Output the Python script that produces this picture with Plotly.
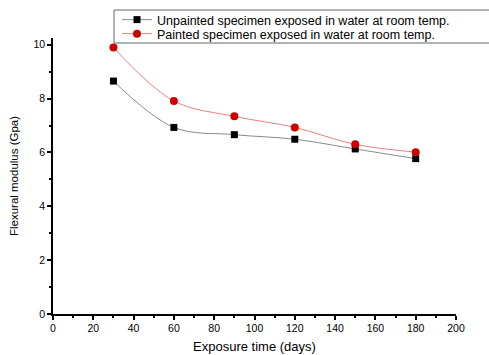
import plotly.graph_objects as go

days = [30, 60, 90, 120, 150, 180]
unpainted = [8.65, 6.93, 6.66, 6.49, 6.13, 5.77]
painted = [9.9, 7.91, 7.34, 6.93, 6.30, 6.01]
name_unpainted = "Unpainted specimen exposed in water at room temp."
name_painted = "Painted specimen exposed in water at room temp."

FONT = "Liberation Sans, Arial"

fig = go.Figure()
fig.add_trace(go.Scatter(
    x=days, y=unpainted, name=name_unpainted, mode="lines+markers", legend="legend",
    line=dict(color="#8a8a8a", width=1, shape="spline", smoothing=1.0),
    marker=dict(symbol="square", size=7, color="black")))
fig.add_trace(go.Scatter(
    x=days, y=painted, name=name_painted, mode="lines+markers", legend="legend2",
    line=dict(color="#f08080", width=1, shape="spline", smoothing=1.0),
    marker=dict(symbol="circle", size=8, color="#cc0000")))

axis_common = dict(showline=True, linecolor="black", linewidth=1.5, ticks="outside",
                   ticklen=4, tickwidth=1.5, tickcolor="black", showgrid=False, zeroline=False,
                   automargin=False,
                   tickfont=dict(family=FONT, size=10.5, color="black"))
fig.update_xaxes(range=[0, 200], dtick=20, title=dict(text="Exposure time (days)",
                 font=dict(family=FONT, size=13, color="black"), standoff=9),
                 minor=dict(dtick=10, ticks="outside", ticklen=2, tickcolor="black"), **axis_common)
fig.update_yaxes(range=[0, 10.25], dtick=2, title=dict(text="Flexural modulus (Gpa)",
                 font=dict(family=FONT, size=11.5, color="black"), standoff=12),
                 minor=dict(dtick=1, ticks="outside", ticklen=2, tickcolor="black"), **axis_common)

leg_common = dict(xanchor="left", yanchor="middle", borderwidth=0,
                  bgcolor="rgba(0,0,0,0)",
                  font=dict(size=12.5, family=FONT, color="black"), itemwidth=30)

fig.update_layout(
    width=489, height=355, margin=dict(l=53, r=33, t=38, b=41, autoexpand=False),
    paper_bgcolor="white", plot_bgcolor="white",
    font=dict(family=FONT, color="black"),
    legend=dict(x=(117 - 53) / 403, y=(314 - 20) / 276, **leg_common),
    legend2=dict(x=(117 - 53) / 403, y=(314 - 34) / 276, **leg_common),
    shapes=[dict(type="rect", xref="paper", yref="paper",
                 x0=(114 - 53) / 403, x1=1.2, y0=(314 - 43) / 276, y1=(314 - 10) / 276,
                 line=dict(color="#666666", width=1), fillcolor="rgba(0,0,0,0)")],
    showlegend=True)

fig.write_html("out.html")
